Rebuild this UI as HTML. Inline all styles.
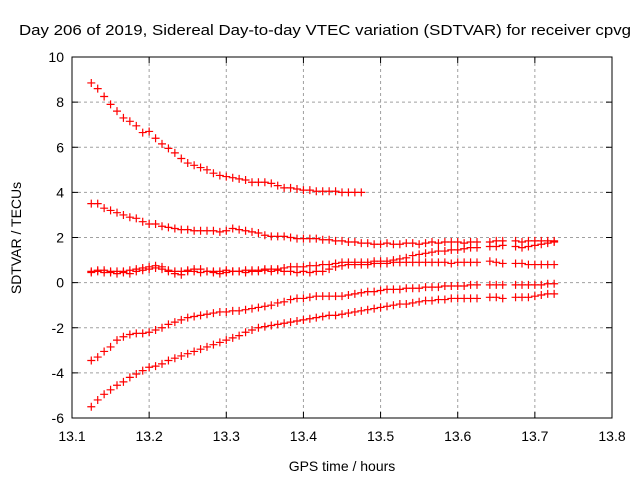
<!DOCTYPE html>
<html><head><meta charset="utf-8"><style>
body{margin:0;background:#fff}
svg{display:block;font-family:"Liberation Sans",sans-serif}
</style></head><body>
<svg id="chart" width="640" height="480">
<text x="19" y="35" font-size="15" textLength="612" lengthAdjust="spacingAndGlyphs">Day 206 of 2019, Sidereal Day-to-day VTEC variation (SDTVAR) for receiver cpvg</text>
<text x="342" y="471" font-size="14" text-anchor="middle">GPS time / hours</text>
<text transform="translate(21,238) rotate(-90)" font-size="14" text-anchor="middle">SDTVAR / TECUs</text>
<g id="grid"></g>
<g id="axes"></g>
<g id="marks"></g>
</svg>
<script>
const xTicks=[13.1,13.2,13.3,13.4,13.5,13.6,13.7,13.8];
const yTicks=[-6,-4,-2,0,2,4,6,8,10];
const startTime=13.125, stepHours=1/120;
const seriesA=[8.85,8.6,8.25,7.9,7.6,7.3,7.15,6.95,6.65,6.7,6.4,6.15,5.95,5.75,5.5,5.3,5.2,5.1,5.0,4.85,4.75,4.7,4.65,4.6,4.55,4.45,4.45,4.45,4.4,4.3,4.2,4.2,4.15,4.1,4.1,4.05,4.05,4.05,4.05,4.0,4.0,4.0,4.0];
const seriesB=[3.5,3.5,3.3,3.2,3.1,3.0,2.9,2.85,2.7,2.6,2.6,2.5,2.45,2.4,2.35,2.35,2.3,2.3,2.3,2.3,2.25,2.3,2.4,2.35,2.3,2.25,2.2,2.1,2.05,2.05,2.05,2.0,1.95,1.95,1.95,1.95,1.9,1.9,1.85,1.85,1.8,1.8,1.75,1.75,1.7,1.7,1.75,1.7,1.7,1.75,1.75,1.7,1.75,1.8,1.75,1.8,1.8,1.8,1.75,1.8,1.8,null,1.8,1.85,1.85,null,1.85,1.8,1.85,1.85,1.85,1.85,1.85];
const seriesC=[0.5,0.5,0.45,0.45,0.4,0.5,0.55,0.6,0.65,0.7,0.65,0.6,0.55,0.5,0.5,0.55,0.5,0.45,0.5,0.5,0.5,0.55,0.5,0.5,0.55,0.55,0.55,0.6,0.6,0.6,0.65,0.7,0.7,0.7,0.75,0.75,0.8,0.8,0.85,0.9,0.9,0.9,0.9,0.9,0.95,0.95,0.95,1.0,1.05,1.1,1.2,1.25,1.3,1.35,1.4,1.4,1.45,1.45,1.5,1.55,1.55,null,1.6,1.6,1.65,null,1.6,1.55,1.6,1.65,1.7,1.75,1.8];
const seriesD=[0.45,0.55,0.55,0.5,0.5,0.45,0.4,0.5,0.55,0.6,0.75,0.7,0.5,0.4,0.35,0.5,0.6,0.6,0.5,0.45,0.4,0.45,0.5,0.5,0.45,0.5,0.5,0.55,0.5,0.55,0.5,0.5,0.45,0.5,0.45,0.5,0.5,0.6,0.7,0.75,0.8,0.8,0.8,0.8,0.85,0.85,0.85,0.9,0.9,0.9,0.9,0.9,0.9,0.9,0.9,0.9,0.85,0.9,0.9,0.9,0.9,null,0.95,0.9,0.85,null,0.85,0.85,0.8,0.8,0.8,0.8,0.8];
const seriesE=[-3.45,-3.3,-3.05,-2.85,-2.55,-2.4,-2.3,-2.25,-2.25,-2.2,-2.1,-2.0,-1.85,-1.75,-1.65,-1.55,-1.5,-1.45,-1.4,-1.35,-1.3,-1.3,-1.25,-1.25,-1.2,-1.15,-1.1,-1.05,-1.0,-0.9,-0.85,-0.75,-0.7,-0.7,-0.65,-0.6,-0.6,-0.6,-0.6,-0.6,-0.55,-0.5,-0.45,-0.4,-0.4,-0.35,-0.3,-0.3,-0.3,-0.25,-0.25,-0.25,-0.2,-0.2,-0.2,-0.15,-0.15,-0.15,-0.15,-0.1,-0.1,null,-0.1,-0.1,-0.1,null,-0.1,-0.1,-0.1,-0.1,-0.1,-0.05,-0.05];
const seriesF=[-5.5,-5.2,-4.95,-4.75,-4.55,-4.4,-4.2,-4.05,-3.9,-3.75,-3.7,-3.6,-3.45,-3.35,-3.25,-3.15,-3.05,-2.95,-2.85,-2.75,-2.65,-2.55,-2.45,-2.35,-2.2,-2.1,-2.0,-1.95,-1.9,-1.85,-1.8,-1.75,-1.7,-1.65,-1.6,-1.55,-1.5,-1.45,-1.45,-1.4,-1.35,-1.3,-1.25,-1.2,-1.15,-1.1,-1.05,-1.0,-0.95,-0.95,-0.9,-0.85,-0.8,-0.8,-0.75,-0.75,-0.7,-0.7,-0.7,-0.7,-0.7,null,-0.65,-0.65,-0.7,null,-0.65,-0.65,-0.65,-0.6,-0.55,-0.5,-0.5];
const allSeries=[seriesA,seriesB,seriesC,seriesD,seriesE,seriesF];
const L=72,R=612,T=57,B=418,xMin=13.1,xMax=13.8,yMin=-6,yMax=10;
const xs=v=>L+(v-xMin)/(xMax-xMin)*(R-L);
const ys=v=>B-(v-yMin)/(yMax-yMin)*(B-T);
const NS="http://www.w3.org/2000/svg";
function mk(tag,attrs,parent){const e=document.createElementNS(NS,tag);for(const k in attrs)e.setAttribute(k,attrs[k]);parent.appendChild(e);return e;}
const grid=document.getElementById('grid'),axes=document.getElementById('axes'),marks=document.getElementById('marks');
xTicks.forEach(v=>{const x=xs(v);
 if(v>xMin&&v<xMax){const g=mk('line',{x1:x,x2:x,y1:T,y2:B,stroke:'#a0a0a0','stroke-dasharray':'3,3'},grid);
 
 }
 mk('line',{x1:x,x2:x,y1:B,y2:B-6,stroke:'#000'},axes);mk('line',{x1:x,x2:x,y1:T,y2:T+6,stroke:'#000'},axes);
 const t=mk('text',{x:x,y:B+23,'font-size':14,'text-anchor':'middle'},axes);t.textContent=v.toFixed(1);
 
 });
yTicks.forEach(v=>{const y=ys(v);
 if(v>yMin&&v<yMax){const g=mk('line',{x1:L,x2:R,y1:y,y2:y,stroke:'#a0a0a0','stroke-dasharray':'3,3'},grid);
 
 }
 mk('line',{x1:L,x2:L+6,y1:y,y2:y,stroke:'#000'},axes);mk('line',{x1:R,x2:R-6,y1:y,y2:y,stroke:'#000'},axes);
 const t=mk('text',{x:L-8,y:y+5,'font-size':14,'text-anchor':'end'},axes);t.textContent=v;
 
 });
mk('rect',{x:L,y:T,width:R-L,height:B-T,fill:'none',stroke:'#000'},axes);
allSeries.forEach((s,si)=>{s.forEach((v,i)=>{if(v===null)return;
 const x=xs(startTime+i*stepHours),y=ys(v);
 const p=mk('path',{d:`M${x-4},${y}H${x+4}M${x},${y-4}V${y+4}`,stroke:'#ff0000','stroke-width':1.2,fill:'none'},marks);
 
 });});
</script>
</body></html>
